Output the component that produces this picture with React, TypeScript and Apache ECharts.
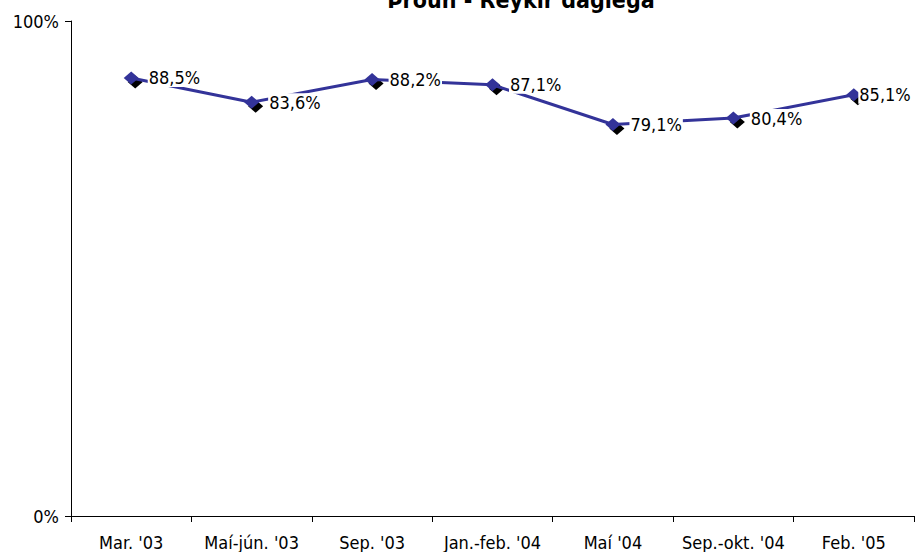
import React, { useEffect, useRef } from "react";
import * as echarts from "echarts";

const categories = ["Mar. '03", "Maí-jún. '03", "Sep. '03", "Jan.-feb. '04", "Maí '04", "Sep.-okt. '04", "Feb. '05"];
const values = [88.5, 83.6, 88.2, 87.1, 79.1, 80.4, 85.1];
const yTicks = [0, 100];
const title = "Þróun - Reykir daglega";

const FONT = "'DejaVu Sans Condensed', 'Liberation Sans Narrow', sans-serif";

export default function App() {
  const ref = useRef<HTMLDivElement>(null);
  useEffect(() => {
    const chart = echarts.init(ref.current!, null, { renderer: "svg" });
    const lastIdx = values.length - 1;
    chart.setOption({
      animation: false,
      backgroundColor: "#ffffff",
      title: {
        text: title,
        left: 516,
        textAlign: "center",
        top: -17,
        textStyle: { fontFamily: FONT, fontWeight: "bold", fontSize: 23, color: "#000" },
      },
      grid: { left: 71, right: 3, top: 21, bottom: 36, containLabel: false },
      xAxis: {
        type: "category",
        data: categories,
        boundaryGap: true,
        axisLine: { lineStyle: { color: "#000", width: 1 } },
        axisTick: { show: true, inside: false, length: 6, lineStyle: { color: "#000" } },
        axisLabel: { fontFamily: FONT, fontSize: 18, color: "#000", margin: 17, interval: 0 },
        splitLine: { show: false },
      },
      yAxis: {
        type: "value",
        min: yTicks[0],
        max: yTicks[1],
        interval: 100,
        axisLine: { show: true, lineStyle: { color: "#000", width: 1 } },
        axisTick: { show: true, length: 6, lineStyle: { color: "#000" } },
        axisLabel: { fontFamily: FONT, fontSize: 18, color: "#000", margin: 12, formatter: "{value}%" },
        splitLine: { show: false },
      },
      series: [
        {
          type: "line",
          data: values,
          symbol: "diamond",
          symbolSize: [15, 13],
          symbolOffset: [4, 4],
          lineStyle: { width: 0, opacity: 0 },
          itemStyle: { color: "#000" },
          z: 1,
          silent: true,
        },
        {
          type: "line",
          data: values.map((v, i) =>
            i === lastIdx ? { value: v, label: { distance: 0, offset: [-3, 0] } } : v
          ),
          symbol: "diamond",
          symbolSize: [15, 13],
          lineStyle: { color: "#333399", width: 3 },
          itemStyle: { color: "#333399" },
          z: 2,
          label: {
            show: true,
            position: "right",
            distance: 9,
            formatter: (p: any) => Number(p.value).toFixed(1).replace(".", ",") + "%",
            fontFamily: FONT,
            fontSize: 18,
            color: "#000",
            backgroundColor: "#fff",
            padding: [0, 1],
          },
        },
      ],
    });
    return () => chart.dispose();
  }, []);
  return <div ref={ref} style={{ width: 917, height: 552, position: "absolute", left: 0, top: 0 }} />;
}
